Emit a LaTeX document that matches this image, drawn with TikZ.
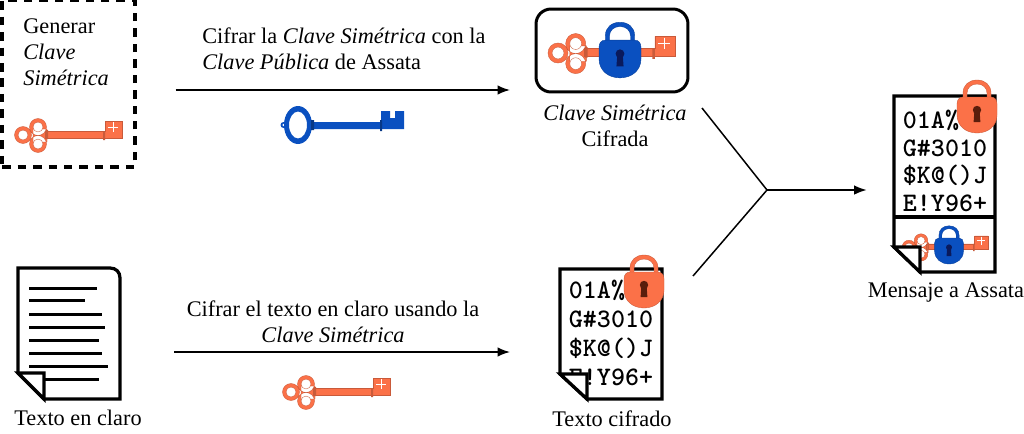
\documentclass[tikz,border=0pt]{standalone}
\usepackage{fontspec}
\usetikzlibrary{arrows.meta}
\setmainfont{Liberation Serif}
\definecolor{naranja}{HTML}{FB7148}
\definecolor{marron}{HTML}{5A1E0C}
\definecolor{azul}{HTML}{0A50C0}
\definecolor{marino}{HTML}{0A1A5C}
\begin{document}
\begin{tikzpicture}[
  x=0.02cm, y=-0.02cm,
  >={Latex[length=0.25cm,width=0.19cm]},
  texto/.style={font=\fontsize{12.7}{14.8}\selectfont, inner sep=0pt},
  flecha/.style={->, line width=0.03cm},
  union/.style={line width=0.03cm},
  marco/.style={line width=0.065cm, fill=white, line join=miter},
  renglon/.style={line width=0.06cm},
  cifrado/.style={font=\fontsize{15.2}{16.4}\selectfont\ttfamily\bfseries, align=left, inner sep=0pt},
  pics/llave/.style={code={
    \fill[naranja, draw=naranja!80!black, line width=0.2pt]
      (0,0) circle (8.5) (15,-8) circle (8.5) (15,9) circle (8.5) (10,-6) rectangle (24,7);
    \fill[white, draw=naranja!80!black, line width=0.2pt]
      (0,0) circle (5) (15,-8) circle (5) (15,9) circle (5);
    \fill[naranja, draw=naranja!80!black, line width=0.2pt]
      (22,-4) -- (82,-4) -- (82,-14) -- (99,-14) -- (99,3) -- (22,3) -- cycle;
    \fill[naranja!80!black] (23,-5) rectangle (25,4) (80,-4) rectangle (82,5);
    \draw[white, line width=0.5pt] (85,-8) -- (95,-8) (90,-13) -- (90,-3);
  }},
  pics/llaveazul/.style={code={
    \fill[azul, even odd rule]
      (0,0) ellipse (14 and 19) (0,0) ellipse (9 and 13.5);
    \fill[azul, even odd rule] (-14.5,0) circle (3) (-14.5,0) circle (1.5);
    \fill[azul] (13,-3) -- (83,-3) -- (83,-14) -- (92,-14) -- (92,-7) -- (97,-7) -- (97,-14) -- (106,-14) -- (106,4) -- (13,4) -- cycle;
    \fill[azul!70!black] (13,-5) rectangle (16,5) (82,-5) rectangle (84,6);
  }},
  pics/candado/.style n args={2}{code={
    \fill[#1, draw=#1!80!black, line width=0.2pt]
      (-14,-16) -- (-14,-22) .. controls (-14,-30) and (-8,-35) .. (0,-35)
      .. controls (8,-35) and (14,-30) .. (14,-22) -- (14,-16) -- (10,-16) -- (10,-22)
      .. controls (10,-27) and (6,-31) .. (0,-31) .. controls (-6,-31) and (-10,-27) .. (-10,-22)
      -- (-10,-16) -- cycle;
    \fill[#1, draw=#1!80!black, line width=0.2pt]
      (-14,-18) -- (14,-18) .. controls (18,-18) and (20,-15) .. (20,-11) -- (20,0)
      .. controls (20,11) and (11,18) .. (0,18) .. controls (-11,18) and (-20,11) .. (-20,0)
      -- (-20,-11) .. controls (-20,-15) and (-18,-18) .. (-14,-18) -- cycle;
    \fill[#2] (0,-5) circle (4.2);
    \fill[#2] (-2.6,-4) -- (-3.4,7) -- (3.4,7) -- (2.6,-4) -- cycle;
  }}
]
\useasboundingbox (0,0) rectangle (1024,433);

% generar clave
\node[draw, dash pattern=on 0.17cm off 0.14cm, line width=0.065cm, minimum width=2.66cm, minimum height=3.34cm, inner sep=0pt] (generar) at (68.5,83.5) {};
\node[texto, align=left, anchor=north west] (generarT) at (23,18) {Generar\\\textit{Clave}\\\textit{Simétrica}};
\pic at (23,135) {llave};

% clave cifrada
\node[draw, rounded corners=0.3cm, line width=0.06cm, minimum width=3.04cm, minimum height=1.66cm, inner sep=0pt] (cajaclave) at (612,50.5) {};
\pic[scale=1.18] at (558,53) {llave};
\pic[scale=1.05] at (620,59) {candado={azul}{marino}};
\node[texto, align=center] (claveT) at (615,126) {\textit{Clave Simétrica}\\Cifrada};

% arriba
\coordinate (finA) at (510,90);
\draw[flecha, shorten <=0.78cm] (generar.east |- finA) -- (finA);
\node[texto, align=left, anchor=north west] (cifrarA) at (202,27) {Cifrar la \textit{Clave Simétrica} con la\\\textit{Clave Pública} de Assata};
\pic at (298,125) {llaveazul};

% texto en claro
\node[minimum width=2.04cm, minimum height=2.62cm, inner sep=0pt] (claro) at (69,333.5) {};
\draw[marco] (18,268) -- (110,268) .. controls (116,268) and (120,272) .. (120,278) -- (120,399) -- (44,399) -- (18,373) -- cycle;
\foreach \y/\fin in {288/97,300/85,314/102,327/105,340/99,353/102,366/108,379/99}
  \draw[renglon] (29,\y) -- (\fin,\y);
\draw[marco] (18,373) -- (44,373) -- (44,399) -- cycle;
\node[texto] (claroT) at (78,418) {Texto en claro};

% abajo
\coordinate (finB) at (510,352);
\draw[flecha, shorten <=1.08cm] (claro.east |- finB) -- (finB);
\node[texto, align=center] (cifrarB) at (333,322) {Cifrar el texto en claro usando la\\\textit{Clave Simétrica}};
\pic at (291,392) {llave};

% texto cifrado
\node[minimum width=2.04cm, minimum height=2.6cm, inner sep=0pt] (cifrado) at (611,334) {};
\draw[marco] (560,269) -- (662,269) -- (662,399) -- (587,399) -- (560,374) -- cycle;
\node[cifrado] (cifradoT) at (611,333) {01A\%\\G\#3010\\\$K@()J\\E!Y96+};
\draw[marco] (560,374) -- (587,374) -- (587,399) -- cycle;
\pic at (644,290) {candado={naranja}{marron}};
\node[texto] (cifradoP) at (612,419) {Texto cifrado};

% mensaje
\node[minimum width=2.02cm, minimum height=3.52cm, inner sep=0pt] (mensaje) at (944.5,184) {};
\draw[marco] (894,96) -- (995,96) -- (995,272) -- (920,272) -- (894,247) -- cycle;
\draw[marco] (894,217) -- (995,217);
\node[cifrado, font=\fontsize{15.2}{15.8}\selectfont\ttfamily\bfseries] (mensajeT) at (945,161) {01A\%\\G\#3010\\\$K@()J\\E!Y96+};
\pic[scale=0.8] at (909,247) {llave};
\draw[marco] (894,247) -- (920,247) -- (920,272) -- cycle;
\pic[scale=0.72] at (949,251) {candado={azul}{marino}};
\pic at (977,115) {candado={naranja}{marron}};
\node[texto] (mensajeP) at (946,292) {Mensaje a Assata};

% union
\coordinate (unionA) at (702,108);
\coordinate (unionB) at (693,276);
\coordinate (nudo) at (767,190);
\draw[union] (unionA) -- (nudo) -- (unionB);
\draw[flecha, shorten >=0.54cm] (nudo) -- (nudo -| mensaje.west);
\end{tikzpicture}
\end{document}
